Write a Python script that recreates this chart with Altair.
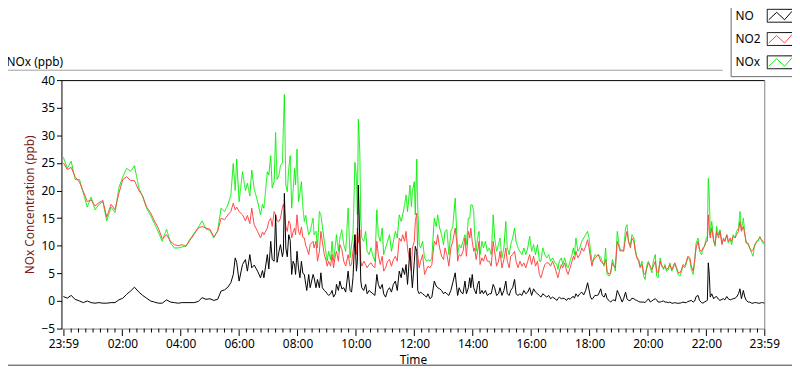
import altair as alt
import pandas as pd

# minutes after 23:59 of the previous day
minutes = [0, 8, 16, 24, 33, 41, 49, 57, 65, 73, 81, 89, 98, 106, 114, 122, 130, 138, 146, 155,
           163, 171, 179, 187, 195, 203, 212, 220, 228, 236, 244, 252, 260, 268, 277, 285, 293, 301, 309, 317,
           324, 331, 338, 344, 349, 353, 356, 361, 368, 374, 378, 383, 387, 392, 399, 405, 409, 412, 419, 422,
           426, 429, 433, 436, 439, 443, 446, 450, 452, 454, 457, 460, 463, 466, 469, 472, 475, 477, 480, 483,
           486, 489, 492, 495, 498, 500, 504, 507, 513, 515, 519, 522, 526, 529, 532, 536, 540, 542, 545, 549,
           552, 555, 559, 561, 565, 568, 572, 576, 580, 585, 589, 592, 595, 599, 602, 604, 606, 609, 611, 613,
           617, 621, 624, 628, 632, 636, 640, 644, 647, 651, 655, 658, 662, 666, 670, 674, 678, 682, 686, 690,
           694, 697, 701, 704, 707, 709, 712, 715, 717, 721, 723, 726, 728, 731, 734, 738, 742, 746, 749, 753,
           757, 762, 766, 769, 773, 777, 781, 784, 788, 792, 796, 800, 805, 808, 810, 813, 817, 821, 825, 828,
           832, 835, 837, 840, 843, 845, 848, 851, 854, 856, 860, 863, 867, 871, 875, 879, 883, 886, 890, 894,
           897, 901, 905, 909, 912, 916, 919, 923, 927, 930, 934, 938, 942, 946, 950, 954, 958, 962, 966, 970,
           974, 978, 981, 985, 989, 993, 997, 1001, 1005, 1010, 1014, 1016, 1019, 1023, 1026, 1030, 1034, 1037, 1041, 1045,
           1048, 1050, 1053, 1057, 1061, 1065, 1069, 1073, 1077, 1080, 1083, 1086, 1088, 1092, 1096, 1099, 1104, 1107, 1111, 1114,
           1117, 1121, 1124, 1128, 1131, 1134, 1138, 1141, 1144, 1148, 1151, 1155, 1158, 1161, 1165, 1168, 1172, 1175, 1178, 1182,
           1185, 1189, 1192, 1195, 1199, 1202, 1206, 1209, 1212, 1216, 1219, 1222, 1226, 1229, 1233, 1236, 1239, 1243, 1246, 1250,
           1253, 1256, 1260, 1263, 1267, 1270, 1273, 1277, 1280, 1283, 1287, 1290, 1294, 1297, 1300, 1304, 1307, 1311, 1314, 1317,
           1321, 1323, 1325, 1327, 1329, 1332, 1336, 1339, 1342, 1346, 1349, 1353, 1356, 1359, 1363, 1366, 1370, 1373, 1376, 1380,
           1383, 1387, 1390, 1393, 1397, 1400, 1403, 1407, 1410, 1414, 1417, 1420, 1424, 1427, 1431, 1434, 1437, 1440]

no_ppb = [0.8, 0.5, 1.0, 0.3, 0.0, -0.3, 0.0, -0.3, -0.4, -0.3, -0.4, -0.4, -0.3, -0.3, 0.2, 0.5, 1.2, 1.8, 2.5, 1.6,
          1.0, 0.5, 0.0, -0.2, -0.4, -0.4, 0.2, -0.2, -0.3, -0.4, -0.3, -0.3, -0.3, -0.3, -0.1, 0.6, 0.3, 0.4, 0.1, 0.3,
          1.8, 2.0, 2.5, 3.3, 4.8, 7.8, 7.0, 3.6, 6.6, 7.5, 5.4, 8.4, 6.0, 6.5, 5.4, 4.2, 5.5, 4.2, 8.4, 5.8,
          10.8, 7.5, 7.2, 15.6, 7.0, 9.0, 10.2, 8.0, 9.0, 19.5, 9.6, 8.0, 12.0, 11.0, 4.8, 7.2, 6.5, 4.8, 9.0, 6.0,
          4.2, 7.2, 5.0, 4.8, 3.0, 1.9, 4.8, 2.4, 4.8, 4.2, 2.4, 3.9, 2.4, 5.1, 2.4, 1.9, 1.6, 1.3, 1.0, 1.3,
          1.9, 0.7, 1.3, 3.0, 1.9, 3.6, 2.2, 2.4, 1.6, 5.4, 1.9, 1.6, 4.2, 12.0, 5.4, 7.2, 21.0, 10.8, 3.6, 2.4,
          1.9, 3.0, 1.3, 1.9, 1.6, 1.3, 1.0, 4.8, 3.0, 2.2, 3.0, 1.3, 0.7, 1.9, 2.4, 1.6, 3.0, 3.6, 1.9, 5.4,
          4.2, 6.0, 4.8, 6.6, 3.0, 5.4, 9.6, 4.8, 2.4, 7.2, 9.9, 9.0, 1.9, 1.3, 1.6, 1.3, 1.0, 0.7, 1.3, 0.4,
          0.7, 3.6, 2.7, 2.4, 2.2, 1.9, 1.3, 1.6, 1.3, 1.0, 1.9, 3.3, 5.1, 2.4, 1.0, 2.4, 1.6, 1.3, 3.6, 1.3,
          2.4, 4.2, 2.4, 4.8, 2.4, 1.9, 1.3, 3.0, 3.6, 1.3, 1.9, 1.3, 1.9, 1.0, 1.3, 1.3, 3.0, 2.4, 1.0, 1.3,
          2.4, 1.0, 1.9, 3.6, 1.3, 1.0, 1.9, 2.4, 3.9, 1.3, 1.0, 1.3, 1.0, 1.9, 1.3, 1.6, 2.4, 1.0, 2.2, 1.6,
          1.3, 1.0, 0.7, 1.3, 1.0, 0.7, 1.0, 0.4, 0.7, 0.4, 0.1, 0.4, 0.7, 0.4, 0.5, 0.4, 0.1, 0.5, 0.3, 0.7,
          0.8, 0.5, 1.3, 0.8, 1.3, 1.6, 1.1, 1.9, 3.3, 2.0, 0.7, 0.3, 0.5, 1.0, 1.0, 1.1, 2.2, 1.0, 0.7, 1.4,
          0.4, 0.1, -0.2, 0.1, 0.2, 0.0, 1.9, 1.3, 0.7, -0.2, 0.4, 1.6, 0.4, 0.1, 0.1, 0.5, 0.4, 0.2, 0.1, -0.1,
          -0.2, -0.2, -0.2, -0.3, 0.1, 0.4, -0.2, 0.0, 0.2, 0.4, 0.2, -0.2, -0.2, -0.1, 0.0, -0.2, -0.2, -0.3, -0.2, -0.4,
          -0.4, -0.3, -0.4, -0.4, -0.4, -0.3, -0.2, -0.3, -0.3, -0.1, 0.0, 0.1, -0.2, 0.0, 0.8, 1.0, 0.1, -0.3, -0.4, -0.2,
          0.0, 0.1, 6.9, 4.8, 0.7, 1.3, 0.4, 0.7, 0.8, 0.3, 0.1, 0.3, 0.4, 0.2, 0.8, 0.4, 0.2, 0.3, 0.4, 0.5,
          0.7, 1.3, 2.2, 0.4, 1.9, 0.7, 0.1, -0.2, -0.2, -0.4, -0.4, -0.3, -0.3, -0.4, -0.4, -0.3, -0.3, -0.4]

no2_ppb = [25.0, 23.8, 24.2, 22.5, 21.5, 19.8, 18.0, 18.3, 17.2, 17.8, 18.2, 15.2, 17.5, 16.5, 19.5, 22.0, 22.5, 21.8, 21.8, 20.0,
           19.0, 17.0, 16.0, 14.5, 13.2, 11.3, 12.0, 10.8, 10.2, 10.0, 10.2, 9.9, 11.0, 12.0, 13.2, 13.5, 13.2, 13.0, 11.6, 12.6,
           15.0, 14.7, 15.6, 16.2, 17.7, 16.5, 17.0, 16.2, 15.6, 14.5, 15.5, 14.0, 16.8, 13.8, 12.6, 11.4, 12.5, 12.0, 13.2, 14.4,
           15.0, 13.5, 16.2, 15.6, 14.5, 14.4, 15.0, 17.0, 17.5, 16.8, 13.5, 12.6, 14.5, 14.0, 11.4, 12.5, 13.2, 12.0, 15.6, 12.6,
           12.0, 13.4, 11.5, 11.4, 10.0, 9.6, 8.4, 10.2, 10.8, 9.6, 10.8, 7.2, 9.0, 12.6, 10.8, 8.4, 7.2, 6.3, 7.2, 6.3,
           8.4, 6.0, 8.4, 9.0, 7.2, 10.2, 9.3, 7.2, 6.3, 8.4, 6.3, 6.6, 9.0, 12.0, 8.4, 13.2, 10.5, 12.9, 7.2, 6.3,
           7.2, 6.6, 6.0, 6.6, 6.9, 6.3, 6.0, 10.8, 8.4, 6.6, 8.1, 5.4, 6.0, 7.2, 7.5, 6.3, 7.5, 8.1, 7.2, 11.4,
           10.8, 12.0, 10.8, 12.6, 9.6, 8.4, 7.2, 5.4, 9.6, 10.8, 14.4, 15.9, 8.4, 6.0, 7.2, 8.4, 4.8, 5.7, 6.3, 6.0,
           6.6, 10.8, 10.2, 12.0, 9.6, 8.1, 7.5, 9.6, 8.4, 6.3, 9.6, 10.8, 13.2, 10.8, 7.2, 8.4, 8.1, 9.0, 11.4, 8.1,
           12.6, 11.4, 13.2, 10.8, 9.0, 9.6, 7.5, 9.0, 10.8, 6.6, 7.8, 7.2, 8.4, 7.2, 7.2, 6.3, 10.8, 9.0, 6.3, 7.2,
           9.0, 6.0, 7.5, 9.6, 7.2, 6.0, 8.1, 8.4, 9.0, 7.2, 6.0, 7.2, 6.3, 6.9, 6.0, 7.2, 8.4, 6.6, 8.1, 6.3,
           7.2, 4.8, 4.2, 5.4, 6.6, 6.9, 6.9, 6.3, 7.2, 6.0, 4.8, 4.2, 5.4, 6.6, 6.0, 6.9, 5.4, 4.8, 6.0, 7.2,
           8.1, 7.5, 9.0, 7.8, 8.4, 9.6, 9.0, 9.9, 11.1, 9.6, 7.8, 6.3, 7.2, 7.8, 8.1, 8.4, 7.2, 6.9, 6.6, 7.5,
           5.4, 4.8, 5.1, 6.9, 6.3, 6.0, 10.8, 9.9, 9.0, 9.3, 9.0, 11.4, 12.6, 10.8, 9.6, 11.4, 10.8, 9.0, 7.8, 7.2,
           6.0, 6.6, 5.1, 4.8, 6.0, 6.9, 6.3, 5.7, 6.3, 7.2, 5.4, 5.1, 7.2, 6.3, 6.0, 6.3, 5.7, 6.0, 6.6, 5.7,
           6.3, 6.9, 6.0, 5.1, 5.1, 5.7, 6.6, 6.3, 7.2, 8.1, 7.8, 6.3, 5.4, 7.5, 9.6, 10.8, 9.3, 9.0, 9.6, 9.9,
           10.8, 10.8, 15.6, 12.6, 11.4, 13.2, 10.8, 10.2, 12.6, 11.4, 12.6, 10.2, 11.4, 10.8, 12.0, 10.8, 11.4, 10.8, 11.7, 11.4,
           12.0, 12.6, 14.4, 12.6, 13.5, 12.0, 10.5, 10.2, 9.6, 9.0, 9.3, 9.9, 10.8, 11.1, 11.4, 11.1, 10.8, 10.5]

nox_ppb = [26.0, 24.0, 25.3, 22.0, 22.0, 19.5, 17.0, 18.8, 16.5, 17.5, 18.0, 14.5, 17.0, 16.0, 20.5, 22.5, 24.0, 23.5, 24.5, 20.5,
           18.8, 16.8, 15.5, 14.0, 12.5, 10.8, 13.0, 10.5, 9.6, 9.6, 9.8, 10.0, 11.2, 12.2, 13.3, 14.5, 13.0, 12.8, 11.4, 12.8,
           16.8, 16.2, 17.4, 19.2, 24.9, 20.0, 25.7, 18.0, 23.4, 20.0, 21.3, 19.0, 23.7, 20.3, 18.0, 15.6, 17.5, 16.8, 23.4, 22.8,
           26.3, 20.5, 21.6, 30.5, 22.0, 22.8, 24.5, 25.0, 31.7, 37.4, 21.0, 19.8, 24.0, 26.3, 16.8, 20.0, 24.0, 21.0, 27.5, 18.0,
           19.5, 21.6, 17.0, 14.4, 15.5, 14.0, 12.0, 12.6, 15.0, 12.0, 12.6, 9.6, 16.2, 15.6, 13.5, 10.8, 8.4, 7.2, 9.0, 7.5,
           10.8, 7.2, 10.2, 12.0, 9.0, 11.4, 12.9, 10.2, 9.0, 16.8, 7.8, 10.2, 12.0, 25.1, 22.5, 15.6, 32.9, 26.9, 15.0, 11.4,
           10.8, 12.6, 9.0, 8.4, 9.6, 8.1, 7.2, 16.5, 12.0, 10.8, 13.2, 8.4, 9.6, 10.8, 12.0, 9.0, 10.8, 12.6, 11.4, 15.6,
           14.4, 15.6, 17.4, 19.2, 16.2, 18.0, 21.0, 17.1, 19.8, 21.6, 15.6, 25.7, 16.8, 10.2, 9.6, 10.8, 7.8, 7.2, 7.5, 7.2,
           7.8, 15.0, 13.5, 15.6, 13.2, 12.0, 10.2, 12.6, 12.9, 8.4, 12.6, 13.5, 18.6, 12.6, 8.4, 10.2, 9.6, 10.8, 12.0, 10.2,
           15.0, 15.0, 17.4, 17.4, 16.2, 12.0, 9.0, 11.4, 12.6, 8.4, 10.8, 9.6, 10.8, 9.0, 9.6, 8.4, 15.6, 11.4, 9.0, 10.2,
           11.4, 7.8, 9.6, 14.4, 9.6, 8.4, 10.2, 11.4, 13.2, 10.8, 9.6, 9.0, 8.4, 9.6, 8.4, 9.6, 11.7, 9.0, 10.2, 8.4,
           10.2, 7.2, 7.2, 9.6, 8.4, 7.8, 8.4, 7.2, 7.8, 6.9, 6.6, 5.7, 7.2, 7.8, 6.6, 7.8, 6.3, 6.0, 7.2, 8.4,
           9.6, 8.4, 11.4, 9.0, 9.6, 10.8, 11.4, 12.0, 12.6, 11.4, 9.0, 7.2, 7.2, 8.4, 8.1, 8.4, 7.9, 7.2, 6.3, 9.6,
           4.8, 4.5, 4.8, 7.5, 6.6, 5.4, 12.6, 10.5, 9.3, 9.0, 9.1, 13.2, 13.8, 10.8, 10.2, 12.0, 11.4, 9.3, 8.1, 7.5,
           6.3, 7.2, 4.5, 3.9, 6.6, 7.2, 6.0, 5.1, 7.2, 8.4, 4.5, 4.2, 7.8, 6.6, 5.7, 6.6, 5.4, 5.7, 6.9, 5.4,
           6.0, 6.8, 5.7, 4.8, 4.5, 5.4, 6.3, 6.0, 6.9, 7.9, 7.5, 5.7, 4.8, 7.2, 10.5, 11.4, 9.0, 8.4, 9.3, 9.9,
           11.4, 11.7, 22.2, 19.2, 12.0, 14.4, 11.1, 9.9, 13.5, 12.0, 12.9, 10.5, 11.1, 10.8, 12.0, 10.5, 11.1, 10.2, 12.0, 11.4,
           12.6, 13.2, 16.2, 12.9, 15.0, 12.3, 10.5, 10.5, 9.6, 8.7, 8.1, 10.2, 10.5, 10.8, 11.7, 11.1, 10.5, 10.2]

series_names = ["NO", "NO2", "NOx"]
series_colors = ["#000000", "#ff4848", "#00f000"]
box_keys = ["NO ", "NO2 ", "NOx "]

tick_minutes = [0, 121, 241, 361, 481, 601, 721, 841, 961, 1081, 1201, 1321, 1440]
tick_labels = ["23:59", "02:00", "04:00", "06:00", "08:00", "10:00", "12:00",
               "14:00", "16:00", "18:00", "20:00", "22:00", "23:59"]
minor_minutes = [1 + 15 * k for k in range(1, 96) if (1 + 15 * k) not in tick_minutes]
y_ticks = [-5, 0, 5, 10, 15, 20, 25, 30, 35, 40]

FONT = "Noto Sans"
W, H = 710, 251

rows = []
for name, key, vals in (("NOx", "NOx ", nox_ppb), ("NO2", "NO2 ", no2_ppb), ("NO", "NO ", no_ppb)):
    for m, v in zip(minutes, vals):
        rows.append({"minute": m, "value": v, "series": name, "key": key})
df = pd.DataFrame(rows)

label_expr = " : ".join(f"datum.value == {v} ? '{l}'" for v, l in zip(tick_minutes, tick_labels)) + " : ''"

x_scale = alt.Scale(domain=[-4, 1440], nice=False, zero=False)
y_scale = alt.Scale(domain=[-5, 40], nice=False, zero=False)

x_axis = alt.Axis(values=tick_minutes, labelExpr=label_expr, tickSize=7, tickColor="black",
                  domainColor="#808080", labelFontSize=12, labelColor="black", labelPadding=3,
                  labelFont=FONT, labelFlush=False, labelOverlap=False, grid=False,
                  title="Time", titleFont=FONT, titleFontSize=12, titleFontWeight="normal",
                  titleColor="black", titlePadding=5)
y_axis = alt.Axis(values=y_ticks, tickSize=5, tickColor="black", domainColor="black",
                  labelFontSize=12, labelColor="black", labelPadding=2, labelFont=FONT, grid=False,
                  title="NOx Concentration (ppb)", titleFont=FONT, titleFontSize=12,
                  titleFontWeight="normal", titleColor="#7a1c1c", titlePadding=5)
y_axis_right = alt.Axis(orient="right", domainColor="#808080", ticks=False, labels=False,
                        title=None, grid=False)
top_axis = alt.Axis(orient="top", domainColor="black", ticks=False, labels=False, grid=False,
                    title="NOx (ppb)", titleFont=FONT, titleFontSize=12, titleFontWeight="normal",
                    titleColor="black", titleX=-56, titleY=-19, titleAlign="left",
                    titleBaseline="middle", titleAngle=0)

# legend symbols in pixel units (symbolSize 4 -> scale factor 1), drawn right of the labels;
# both symbols share the same bounding extents so the two legends line up row by row
zig = "M38,-6.5M64,6.5M39.5,4L47.5,-3.5L55.5,4L63,-4.5"
box = "M38,-6.5H64V6.5H38Z"
LEG_X, LEG_Y = 676, -76
ROW_PAD = 5.5

color_enc = alt.Color("series:N", scale=alt.Scale(domain=series_names, range=series_colors),
                      legend=alt.Legend(orient="none", legendX=LEG_X, legendY=LEG_Y, title=None,
                                        symbolType=zig, symbolSize=4, symbolStrokeWidth=1,
                                        symbolFillColor="transparent", labelOffset=0, symbolOffset=-12,
                                        padding=5, rowPadding=ROW_PAD, strokeColor="#6a6a6a",
                                        fillColor="white",
                                        labelFont=FONT, labelFontSize=12, labelColor="black"))
dash_enc = alt.StrokeDash("key:N", scale=alt.Scale(domain=box_keys, range=[[1, 0], [1, 0], [1, 0]]),
                          legend=alt.Legend(orient="none", legendX=LEG_X, legendY=LEG_Y, title=None,
                                            symbolType=box, symbolSize=4, symbolStrokeWidth=1,
                                            symbolStrokeColor="black", symbolFillColor="transparent",
                                            labelOffset=0, symbolOffset=-12, padding=5, rowPadding=ROW_PAD,
                                            labelFont=FONT, labelFontSize=12, labelOpacity=0))

def line_layer(name, xaxis, yaxis, dash):
    enc = dict(
        x=alt.X("minute:Q", scale=x_scale, axis=xaxis),
        y=alt.Y("value:Q", scale=y_scale, axis=yaxis),
        color=color_enc,
    )
    if dash:
        enc["strokeDash"] = dash_enc
    return (alt.Chart(df).transform_filter(alt.datum.series == name)
            .mark_line(strokeWidth=1).encode(**enc))

minor = (alt.Chart(pd.DataFrame({"minute": minor_minutes}))
         .mark_rule(color="black", strokeWidth=1)
         .encode(x=alt.X("minute:Q", scale=x_scale, axis=top_axis),
                 y=alt.value(H), y2=alt.value(H + 4)))

frame_df = pd.DataFrame({"k": [0]})
frame_top = alt.Chart(frame_df).mark_rule(color="#a0a0a0").encode(
    x=alt.value(-54), x2=alt.value(668), y=alt.value(-10))
frame_bottom = alt.Chart(frame_df).mark_rule(color="#404040").encode(
    x=alt.value(-54), x2=alt.value(738), y=alt.value(288))

chart = (alt.layer(frame_top, frame_bottom,
                   line_layer("NOx", x_axis, y_axis, True),
                   line_layer("NO2", None, y_axis_right, False),
                   line_layer("NO", None, None, False),
                   minor)
         .resolve_axis(x="independent", y="independent")
         .properties(width=W, height=H,
                     autosize=alt.AutoSizeParams(type="none"),
                     padding={"left": 54, "top": 71, "right": 28, "bottom": 39})
         .configure(font=FONT, background="white")
         .configure_view(stroke=None))

chart.save("out.html", embed_options={"renderer": "svg", "actions": False})
